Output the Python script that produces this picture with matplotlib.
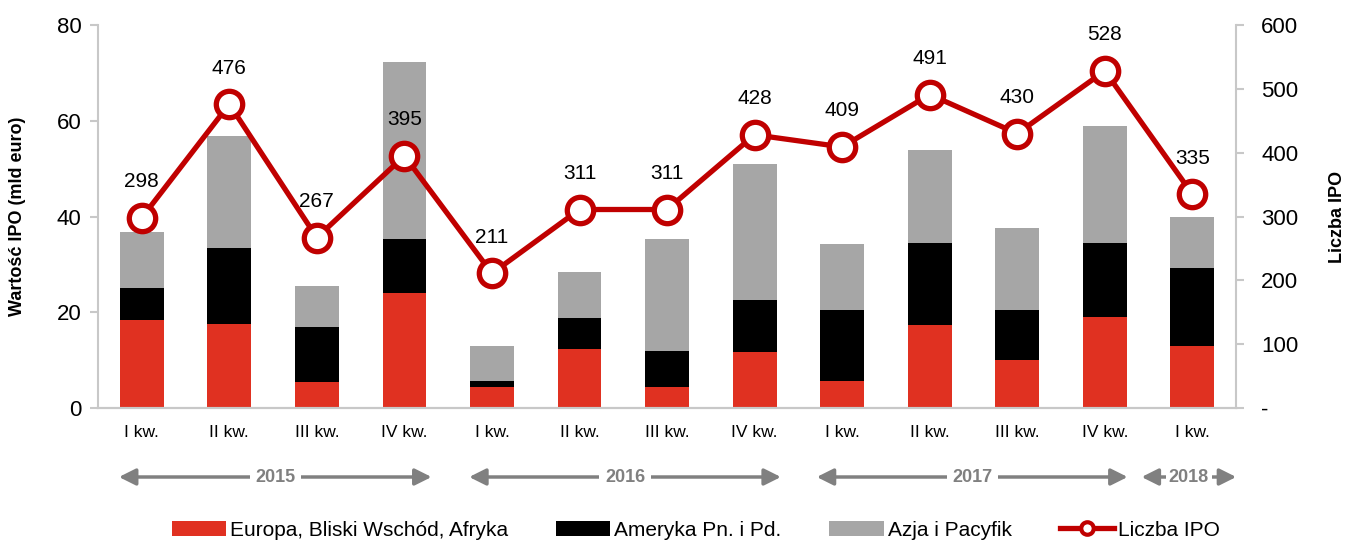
import numpy as np
import matplotlib
matplotlib.use("Agg")
import matplotlib.pyplot as plt
import matplotlib.transforms as mtransforms
from matplotlib.lines import Line2D

plt.rcParams['font.family'] = ['Liberation Sans', 'DejaVu Sans']

quarters = ["I kw.", "II kw.", "III kw.", "IV kw.",
            "I kw.", "II kw.", "III kw.", "IV kw.",
            "I kw.", "II kw.", "III kw.", "IV kw.",
            "I kw."]
emea = [18.4, 17.5, 5.4, 24.0, 4.4, 12.3, 4.4, 11.7, 5.6, 17.3, 10.0, 19.0, 13.0]
americas = [6.7, 15.9, 11.5, 11.3, 1.2, 6.5, 7.5, 10.9, 14.9, 17.2, 10.5, 15.5, 16.2]
asia = [11.7, 23.4, 8.6, 37.0, 7.4, 9.6, 23.4, 28.4, 13.8, 19.4, 17.1, 24.4, 10.7]
ipo_count = [298, 476, 267, 395, 211, 311, 311, 428, 409, 491, 430, 528, 335]
years = ["2015", "2016", "2017", "2018"]
year_spans = [(-0.26, 3.31), (3.74, 7.3), (7.71, 11.26), (11.42, 12.5)]

c_red = "#e03121"
c_black = "#000000"
c_gray = "#a6a6a6"
c_line = "#c00000"
c_axis = "#c8c8c8"

fig = plt.figure(figsize=(13.51, 5.42), dpi=100)
ax = fig.add_axes([0.0725, 0.247, 0.8425, 0.707])
ax2 = ax.twinx()

x = np.arange(len(quarters))
w = 0.5
emea = np.array(emea)
americas = np.array(americas)
asia = np.array(asia)
ax.bar(x, emea, w, color=c_red, label="Europa, Bliski Wschód, Afryka", zorder=2)
ax.bar(x, americas, w, bottom=emea, color=c_black, label="Ameryka Pn. i Pd.", zorder=2)
ax.bar(x, asia, w, bottom=emea + americas, color=c_gray, label="Azja i Pacyfik", zorder=2)

ax2.plot(x, ipo_count, color=c_line, lw=3.8, marker="o", ms=19, mew=3.8,
         mfc="white", mec=c_line, zorder=3)
for xi, v in zip(x, ipo_count):
    ax2.annotate(str(v), (xi, v), xytext=(0, 26), textcoords="offset points",
                 ha="center", va="center", fontsize=15)

ax.set_xlim(-0.5, 12.5)
ax.set_ylim(0, 80)
ax2.set_ylim(0, 600)
ax.set_yticks([0, 20, 40, 60, 80])
ax2.set_yticks([0, 100, 200, 300, 400, 500, 600])
ax2.set_yticklabels(["-", "100", "200", "300", "400", "500", "600"])
ax.set_xticks(x)
ax.set_xticklabels(quarters, fontsize=12.5)

for a in (ax, ax2):
    a.spines["top"].set_visible(False)
    for s in ("left", "right", "bottom"):
        a.spines[s].set_color(c_axis)
        a.spines[s].set_linewidth(1.5)
ax.spines["right"].set_visible(False)
ax2.spines["left"].set_visible(False)

ax.tick_params(axis="y", labelsize=16, length=6, width=1.5, color=c_axis, pad=6)
ax2.tick_params(axis="y", labelsize=16, length=6, width=1.5, color=c_axis, pad=12)
ax.tick_params(axis="x", length=0, pad=12)

ax.set_ylabel("Wartość IPO (mld euro)", fontsize=13, fontweight="bold", labelpad=22)
ax2.set_ylabel("Liczba IPO", fontsize=13, fontweight="bold", labelpad=22)

# year arrows below the quarters
trans = mtransforms.blended_transform_factory(ax.transData, fig.transFigure)
y_arr = 1 - 477 / 542
for label, (x0, x1) in zip(years, year_spans):
    ax.annotate("", xy=(x0, y_arr), xytext=(x1, y_arr), xycoords=trans, textcoords=trans,
                arrowprops=dict(arrowstyle="<|-|>,head_length=1.0,head_width=0.5",
                                color="#808080", lw=2.5, shrinkA=0, shrinkB=0),
                annotation_clip=False)
    ax.text((x0 + x1) / 2, y_arr, label, transform=trans, ha="center", va="center",
            fontsize=13, fontweight="bold", color="#808080",
            bbox=dict(facecolor="white", edgecolor="none", pad=4 if label != "2018" else 2))

h1, l1 = ax.get_legend_handles_labels()
line_handle = Line2D([], [], color=c_line, lw=3.8, marker="o", ms=9, mew=3,
                     mfc="white", mec=c_line)
fig.legend(h1 + [line_handle], l1 + ["Liczba IPO"], loc="center",
           bbox_to_anchor=(0.515, 1 - 530 / 542), ncol=4,
           frameon=False, fontsize=15, handlelength=2.6, handleheight=0.7,
           handletextpad=0.2, columnspacing=2.3)

fig.savefig("out.png", dpi=100)
